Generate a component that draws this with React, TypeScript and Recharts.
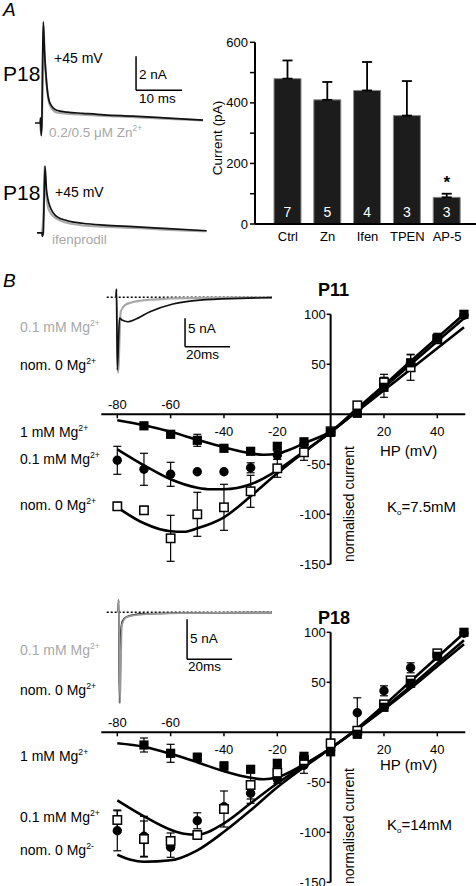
import React from 'react';
import {
  LineChart, Line, XAxis, YAxis, ReferenceLine, BarChart, Bar, ErrorBar,
  LabelList, ComposedChart, Scatter, ReferenceDot,
} from 'recharts';

const FONT = '"Liberation Sans", Arial, Helvetica, sans-serif';
const GREY = '#a8a8a8';

// ---------- Panel A: example traces [time (ms), current (nA)] ----------
const a1Control: number[][] = [
  [0, 0], [1.1, 0], [1.2, 0.3], [1.35, -0.75], [1.5, 0], [1.65, 3.5], [1.8, 5.94], [2.05, 4.3],
  [2.5, 2.4], [3.2, 1.2], [4.7, 0.75], [7, 0.64], [10.4, 0.57], [15, 0.48], [21.3, 0.4], [28, 0.3], [36.5, 0.17],
];
const a1Zinc: number[][] = [
  [1.1, 0], [1.3, -0.6], [1.5, 0], [1.7, 3.5], [1.85, 5.7], [2.1, 4.0], [2.6, 2.1], [3.3, 1.0],
  [4.7, 0.62], [7, 0.55], [10.4, 0.49], [15, 0.42], [21.3, 0.34], [28, 0.26], [36.5, 0.15],
];
const a2Control: number[][] = [
  [0.43, 0], [1.5, 0], [1.6, -0.2], [1.8, 0], [2.17, 3.94], [2.5, 2.53], [3.26, 1.55], [4.72, 0.96],
  [7, 0.72], [10.4, 0.57], [15, 0.46], [21.3, 0.37], [28, 0.27], [37.3, 0.13],
];
const a2Ifenprodil: number[][] = [
  [1.5, 0], [1.9, 1.5], [2.05, 3.9], [2.4, 2.3], [3.1, 1.3], [4.6, 0.85], [7, 0.6], [10.4, 0.45],
  [15, 0.37], [21.3, 0.3], [28, 0.2], [37.3, 0.1],
];

// ---------- Panel A: bar chart ----------
const barCategories = ['Ctrl', 'Zn', 'Ifen', 'TPEN', 'AP-5'];
const barMeans = [480, 410, 441, 358, 88];
const barErrors = [60, 59, 94, 114, 12];
const barN = [7, 5, 4, 3, 3];
const barSig = ['', '', '', '', '*'];
const barTicks = [0, 100, 200, 300, 400, 500, 600];

// ---------- Panel B: inset traces [time (ms), current (nA)] ----------
const p11Nom0Trace: number[][] = [
  [7.11, 0], [7.33, 1.46], [7.69, -12.8], [8.67, -3.64], [9.78, -4.0], [12.44, -4.3], [15.56, -3.9],
  [22.2, -2.54], [32.4, -1.18], [44.4, -0.48], [62.2, -0.18], [76.4, -0.05],
];
const p11Mg01Trace: number[][] = [
  [7.11, 0], [7.3, 1.4], [8.0, -13.3], [9.2, -2.54], [11.1, -1.36], [14, -0.9], [17.8, -0.6],
  [23, -0.4], [29.6, -0.25], [45, -0.1], [76.4, -0.02],
];
const p18Nom0Trace: number[][] = [
  [8.0, 0], [8.3, 1.54], [8.67, -11.34], [9.33, -2.21], [10.0, -1.09], [11.87, -0.55], [19.1, -0.21],
  [35.6, -0.09], [76.4, -0.03],
];
const p18Mg01Trace: number[][] = [
  [8.0, 0], [8.3, 1.5], [8.9, -11.34], [9.7, -1.59], [11.87, -0.6], [19.1, -0.25], [35.6, -0.1], [76.4, -0.03],
];

// ---------- Panel B: I-V data [HP (mV), normalised current, error] ----------
const ivXTicks = [-80, -60, -40, -20, 20, 40];
const ivYTicks = [100, 50, -50, -100, -150];

const p11Mg1: number[][] = [
  [-70, -11.5, 0], [-60, -20, 0], [-50, -26, 6], [-40, -34, 0], [-30, -37, 0], [-20, -32, 3], [-10, -27.5, 3],
  [0, -18, 4], [10, 1, 0], [20, 27, 10], [30, 51.5, 8], [40, 76, 5], [50, 100, 0],
];
const p11Mg01: number[][] = [
  [-80, -46, 14], [-70, -55, 16], [-60, -60, 12], [-50, -57.5, 0], [-40, -57.5, 0], [-30, -53.5, 5],
  [-20, -41, 4], [-10, -30, 0], [0, -18, 0], [10, 2, 0], [20, 28, 0], [30, 50, 0], [40, 75, 0], [50, 99, 0],
];
const p11Mg0: number[][] = [
  [-80, -92, 4], [-70, -96, 4], [-60, -124, 23], [-50, -100, 22], [-40, -93, 23], [-30, -77, 16],
  [-20, -54, 9], [-10, -38, 8], [0, -17, 0], [10, 9, 0], [20, 32, 8], [30, 47, 13], [40, 75, 0],
];
const p11Fit1: number[][] = [
  [-80, -6], [-70, -11], [-60, -17.5], [-50, -25.5], [-40, -33], [-30, -39], [-25, -40.5], [-20, -39.5],
  [-15, -35], [-10, -29], [0, -17], [10, 6], [20, 29], [30, 53], [40, 76.5], [50, 100],
];
const p11Fit2: number[][] = [
  [-80, -35], [-70, -51], [-60, -65], [-50, -73.5], [-45, -75], [-40, -75], [-30, -70], [-20, -56],
  [-10, -37], [0, -18], [10, 4], [20, 27], [30, 50], [40, 73], [50, 96],
];
const p11Fit3: number[][] = [
  [-80, -93], [-70, -109], [-60, -117], [-55, -117.5], [-50, -114], [-40, -103], [-30, -82], [-20, -59],
  [-10, -38], [0, -18], [10, 3], [20, 24], [30, 45], [40, 66], [50, 87],
];

const p18Mg1: number[][] = [
  [-70, -12.7, 7], [-60, -21, 9], [-50, -25, 4], [-40, -33.7, 4], [-30, -37, 0], [-20, -31, 0],
  [-10, -24, 0], [0, -19.5, 0], [10, -2, 0], [20, 25, 0], [30, 49, 0], [40, 76, 0], [50, 100, 0],
];
const p18Mg01: number[][] = [
  [-80, -98.5, 20], [-70, -104, 20], [-60, -115, 10], [-50, -88.5, 8], [-40, -74.5, 0], [-30, -61, 10],
  [-20, -47, 4], [-10, -33, 8], [0, -18, 0], [10, 19.5, 15], [20, 41.5, 5], [30, 64.5, 5], [40, 78, 0], [50, 99, 0],
];
const p18Mg0: number[][] = [
  [-80, -87.7, 10], [-70, -106.7, 18], [-60, -108.7, 8], [-50, -102.7, 4], [-40, -76.7, 18], [-30, -52.7, 14],
  [-20, -40.4, 6], [-10, -28, 0], [0, -11, 4], [10, 1.6, 0], [20, 28, 0], [30, 52, 0], [40, 79, 0],
];
const p18Fit1: number[][] = [
  [-80, -11], [-70, -14.5], [-60, -21.5], [-50, -30], [-40, -39], [-30, -45.5], [-25, -47], [-20, -45],
  [-10, -32], [0, -16], [10, 4], [20, 27], [30, 51], [40, 75], [50, 99],
];
const p18Fit2: number[][] = [
  [-80, -68], [-70, -84], [-60, -97.5], [-55, -101.5], [-50, -102.5], [-40, -91], [-30, -71], [-20, -51],
  [-10, -33], [0, -16], [10, 3], [20, 24], [30, 46], [40, 69], [50, 92],
];
const p18Fit3: number[][] = [
  [-80, -122.5], [-75, -127.5], [-70, -129.5], [-60, -128], [-50, -118], [-40, -99.5], [-30, -78], [-20, -55],
  [-10, -35], [0, -16], [10, 3], [20, 23], [30, 44], [40, 66], [50, 88],
];

// ---------- helpers ----------
const toTrace = (arr: number[][]) => arr.map(([t, i]) => ({ t, i }));
const toPts = (arr: number[][]) => arr.map(([x, y, e]) => ({ x, y, e: e ?? 0 }));
const barData = barCategories.map((c, k) => ({
  name: c, mean: barMeans[k], err: [0, barErrors[k]], n: String(barN[k]), sig: barSig[k],
}));

const abs = (left: number, top: number): React.CSSProperties => ({ position: 'absolute', left, top });

function Trace({ left, top, width, height, xDomain, yDomain, black, grey, scaleBar, baseline, greyOnTop }: any) {
  const greyLine = (
    <Line key="g" data={toTrace(grey)} dataKey="i" type="monotone" stroke={greyOnTop ? '#999' : GREY}
      strokeWidth={greyOnTop ? 1.8 : 2.2} dot={false} isAnimationActive={false} />
  );
  const blackLine = (
    <Line key="b" data={toTrace(black)} dataKey="i" type="monotone" stroke="#111" strokeWidth={1.7}
      dot={false} isAnimationActive={false} />
  );
  return (
    <div style={abs(left, top)}>
      <LineChart width={width} height={height} margin={{ top: 0, right: 0, bottom: 0, left: 0 }}>
        <XAxis type="number" dataKey="t" domain={xDomain} hide />
        <YAxis type="number" dataKey="i" domain={yDomain} hide />
        {baseline && (
          <ReferenceLine segment={[{ x: baseline[0], y: 0 }, { x: baseline[1], y: 0 }]}
            stroke="#000" strokeWidth={1.4} strokeDasharray="2 2" />
        )}
        {scaleBar && (
          <ReferenceLine segment={[{ x: scaleBar.t, y: scaleBar.i0 }, { x: scaleBar.t, y: scaleBar.i0 + scaleBar.di }]}
            stroke="#000" strokeWidth={1.5} />
        )}
        {scaleBar && (
          <ReferenceLine segment={[{ x: scaleBar.t, y: scaleBar.i0 }, { x: scaleBar.t + scaleBar.dt, y: scaleBar.i0 }]}
            stroke="#000" strokeWidth={1.5} />
        )}
        {greyOnTop ? [blackLine, greyLine] : [greyLine, blackLine]}
      </LineChart>
    </div>
  );
}

const filledSquare = (p: any) => <rect x={p.cx - 4.6} y={p.cy - 4.6} width={9.2} height={9.2} fill="#000" />;
const openSquare = (p: any) => (
  <rect x={p.cx - 4.2} y={p.cy - 4.2} width={8.4} height={8.4} fill="#fff" stroke="#000" strokeWidth={1.5} />
);
const filledCircle = (p: any) => <circle cx={p.cx} cy={p.cy} r={4.7} fill="#000" />;

const tickLabelStyle = { fill: '#000', fontSize: 13, fontFamily: FONT };

function IVPlot({ top, fit1, fit2, fit3, mg1, mg01, mg0 }: any) {
  return (
    <div style={abs(90, top)}>
      <ComposedChart width={386} height={280} margin={{ top: 14.3, right: 10.7, bottom: 15.7, left: 11.3 }}>
        <XAxis type="number" dataKey="x" domain={[-86, 50.5]} hide />
        <YAxis type="number" dataKey="y" domain={[-150, 100]} hide />
        <ReferenceLine y={0} stroke="#000" strokeWidth={2} />
        <ReferenceLine segment={[{ x: 0, y: -150 }, { x: 0, y: 100 }]} stroke="#000" strokeWidth={2} />
        {ivXTicks.map((v) => (
          <ReferenceLine key={'xt' + v} segment={[{ x: v, y: 0 }, { x: v, y: -4 }]} stroke="#000" strokeWidth={1.5} />
        ))}
        {ivYTicks.map((v) => (
          <ReferenceLine key={'yt' + v} segment={[{ x: -1.5, y: v }, { x: 0, y: v }]} stroke="#000" strokeWidth={1.5} />
        ))}
        {ivXTicks.map((v) => (
          <ReferenceDot key={'xl' + v} x={v} y={0} r={0} fill="none" stroke="none"
            label={{ value: String(v), position: v < -50 ? 'top' : 'bottom', offset: v < -50 ? 5 : 12, ...tickLabelStyle }} />
        ))}
        {ivYTicks.map((v) => (
          <ReferenceDot key={'yl' + v} x={0} y={v} r={0} fill="none" stroke="none"
            label={{ value: String(v), position: 'left', offset: 5, ...tickLabelStyle }} />
        ))}
        <Line data={toPts(fit3)} dataKey="y" type="monotone" stroke="#000" strokeWidth={2.6} dot={false} isAnimationActive={false} />
        <Line data={toPts(fit2)} dataKey="y" type="monotone" stroke="#000" strokeWidth={2.6} dot={false} isAnimationActive={false} />
        <Line data={toPts(fit1)} dataKey="y" type="monotone" stroke="#000" strokeWidth={2.6} dot={false} isAnimationActive={false} />
        <Scatter data={toPts(mg01)} dataKey="y" shape={filledCircle} isAnimationActive={false}>
          <ErrorBar dataKey="e" direction="y" width={4} stroke="#000" strokeWidth={1.2} />
        </Scatter>
        <Scatter data={toPts(mg0)} dataKey="y" shape={openSquare} isAnimationActive={false}>
          <ErrorBar dataKey="e" direction="y" width={4} stroke="#000" strokeWidth={1.2} />
        </Scatter>
        <Scatter data={toPts(mg1)} dataKey="y" shape={filledSquare} isAnimationActive={false}>
          <ErrorBar dataKey="e" direction="y" width={4} stroke="#000" strokeWidth={1.2} />
        </Scatter>
      </ComposedChart>
    </div>
  );
}

function Mg({ x, y, pre, sup, fill = '#000', size = 14 }: any) {
  return (
    <text x={x} y={y} fontSize={size} fill={fill} fontFamily={FONT}>
      {pre}
      <tspan dy={-6} fontSize={size * 0.62}>{sup}</tspan>
    </text>
  );
}

function Overlay() {
  const t = (x: number, y: number, s: string, size = 13.5, extra: any = {}) => (
    <text x={x} y={y} fontSize={size} fontFamily={FONT} fill="#000" {...extra}>{s}</text>
  );
  return (
    <svg width={476} height={886} style={{ position: 'absolute', left: 0, top: 0, pointerEvents: 'none' }}>
      {/* Panel A */}
      {t(3, 16, 'A', 19, { fontStyle: 'italic' })}
      {t(3, 81, 'P18', 21)}
      {t(54, 63, '+45 mV', 14)}
      {t(139, 79, '2 nA', 13.5)}
      {t(139, 103, '10 ms', 13.5)}
      <Mg x={49} y={137} pre="0.2/0.5 μM Zn" sup="2+" fill={GREY} size={13.5} />
      {t(3, 200, 'P18', 21)}
      {t(55, 197, '+45 mV', 14)}
      {t(52, 244, 'ifenprodil', 13.5, { fill: GREY })}
      <text x={0} y={0} fontSize={13.5} fontFamily={FONT} textAnchor="middle"
        transform="translate(222,138) rotate(-90)">Current  (pA)</text>

      {/* Panel B */}
      {t(3, 287, 'B', 19, { fontStyle: 'italic' })}
      <Mg x={20} y={332} pre="0.1 mM Mg" sup="2+" fill={GREY} />
      <Mg x={20} y={370} pre="nom. 0 Mg" sup="2+" />
      {t(188, 333, '5 nA')}
      {t(186, 359, '20ms')}
      {t(318, 296, 'P11', 18, { fontWeight: 'bold' })}
      <Mg x={20} y={437} pre="1 mM Mg" sup="2+" />
      <Mg x={20} y={464} pre="0.1 mM Mg" sup="2+" />
      <Mg x={20} y={510} pre="nom. 0 Mg" sup="2+" />
      {t(380, 456, 'HP (mV)', 15)}
      <text x={0} y={0} fontSize={14} fontFamily={FONT} textAnchor="middle"
        transform="translate(354,504) rotate(-90)">normalised current</text>
      <text x={387} y={512} fontSize={15} fontFamily={FONT}>K<tspan dy={3} fontSize={8}>o</tspan><tspan dy={-3}>=7.5mM</tspan></text>

      <Mg x={20} y={655} pre="0.1 mM Mg" sup="2+" fill={GREY} />
      <Mg x={20} y={695} pre="nom. 0 Mg" sup="2+" />
      {t(190, 643, '5 nA')}
      {t(188, 671, '20ms')}
      {t(318, 624, 'P18', 18, { fontWeight: 'bold' })}
      <Mg x={20} y={761} pre="1 mM Mg" sup="2+" />
      <Mg x={20} y={822} pre="0.1 mM Mg" sup="2+" />
      <Mg x={20} y={855} pre="nom. 0 Mg" sup="2-" />
      {t(380, 770, 'HP (mV)', 15)}
      <text x={0} y={0} fontSize={14} fontFamily={FONT} textAnchor="middle"
        transform="translate(354,826) rotate(-90)">normalised current</text>
      <text x={387} y={830} fontSize={15} fontFamily={FONT}>K<tspan dy={3} fontSize={8}>o</tspan><tspan dy={-3}>=14mM</tspan></text>
    </svg>
  );
}

export default function App() {
  return (
    <div style={{ position: 'absolute', left: 0, top: 0, width: 476, height: 886, background: '#fff', fontFamily: FONT, overflow: 'hidden' }}>
      {/* A: traces */}
      <Trace left={35} top={15} width={173} height={125} xDomain={[0, 37.6]} yDomain={[-1.0, 6.35]}
        black={a1Control} grey={a1Zinc} scaleBar={{ t: 21.96, i0: 1.92, di: 2, dt: 10 }} />
      <Trace left={35} top={150} width={173} height={95} xDomain={[0, 37.6]} yDomain={[-0.71, 4.88]}
        black={a2Control} grey={a2Ifenprodil} />

      {/* A: bar chart */}
      <div style={abs(200, 30)}>
        <BarChart width={276} height={230} data={barData} margin={{ top: 12.3, right: 0, bottom: 6, left: 0 }} barSize={27}>
          <XAxis dataKey="name" axisLine={{ stroke: '#000', strokeWidth: 2 }} tickLine={false} height={30}
            padding={{ left: 13, right: 9 }} tick={{ fill: '#000', fontSize: 13, fontFamily: FONT }} interval={0} />
          <YAxis width={55} domain={[0, 600]} ticks={barTicks} axisLine={{ stroke: '#000', strokeWidth: 2 }}
            tickLine={{ stroke: '#000', strokeWidth: 1.5 }} tickSize={5}
            tickFormatter={(v: number) => (v % 200 === 0 ? String(v) : '')}
            tick={{ fill: '#000', fontSize: 13, fontFamily: FONT }} />
          <Bar dataKey="mean" fill="#1c1c1c" stroke="#8a8a8a" strokeWidth={1} isAnimationActive={false}>
            <ErrorBar dataKey="err" direction="y" width={5} stroke="#000" strokeWidth={1.8} />
            <LabelList dataKey="n" position="insideBottom" offset={7} fill="#fff" fontSize={14} fontFamily={FONT} />
            <LabelList dataKey="sig" position="top" offset={9} fill="#000" fontSize={17} fontWeight="bold" fontFamily={FONT} />
          </Bar>
        </BarChart>
      </div>

      {/* B: inset traces */}
      <Trace left={100} top={285} width={175} height={93} xDomain={[0, 77.78]} yDomain={[-14.21, 2.17]}
        black={p11Nom0Trace} grey={p11Mg01Trace} baseline={[2.98, 76.4]} scaleBar={{ t: 37.8, i0: -8.7, di: 5, dt: 20 }} />
      <Trace left={100} top={595} width={175} height={115} xDomain={[0, 77.78]} yDomain={[-12.21, 2.16]}
        black={p18Nom0Trace} grey={p18Mg01Trace} greyOnTop baseline={[2.98, 76.4]} scaleBar={{ t: 38.7, i0: -5.875, di: 5, dt: 20 }} />

      {/* B: I-V relations */}
      <IVPlot top={300} fit1={p11Fit1} fit2={p11Fit2} fit3={p11Fit3} mg1={p11Mg1} mg01={p11Mg01} mg0={p11Mg0} />
      <IVPlot top={618} fit1={p18Fit1} fit2={p18Fit2} fit3={p18Fit3} mg1={p18Mg1} mg01={p18Mg01} mg0={p18Mg0} />

      <Overlay />
    </div>
  );
}
